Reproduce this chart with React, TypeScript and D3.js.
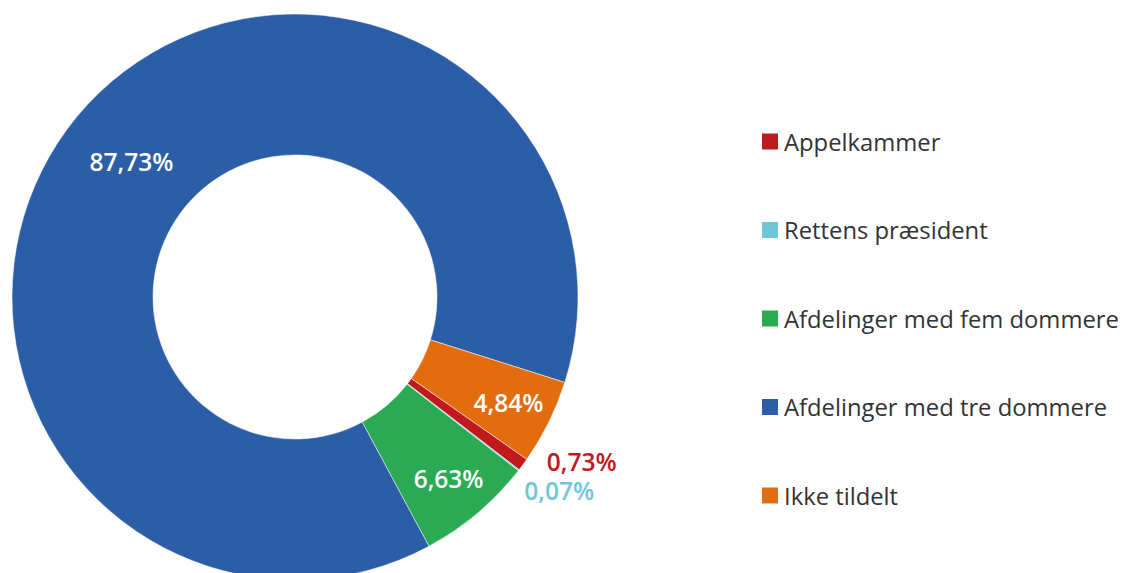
import React from "react";
import * as d3 from "d3";

const categories = [
  "Appelkammer",
  "Rettens præsident",
  "Afdelinger med fem dommere",
  "Afdelinger med tre dommere",
  "Ikke tildelt",
];
const values = [0.73, 0.07, 6.63, 87.73, 4.84];
const valueLabels = ["0,73%", "0,07%", "6,63%", "87,73%", "4,84%"];
const colors = ["#c0191e", "#6fc6da", "#2aaa52", "#2c5ea8", "#e36c0e"];

const W = 1123;
const H = 573;
const cx = 295;
const cy = 297;
const outerR = 283;
const innerR = 142;
const startDeg = 125;

export default function App() {
  const pie = d3
    .pie<number>()
    .sort(null)
    .value((d) => d)
    .startAngle((startDeg * Math.PI) / 180)
    .endAngle(((startDeg + 360) * Math.PI) / 180);
  const arcs = pie(values);
  const arc = d3.arc<d3.PieArcDatum<number>>().innerRadius(innerR).outerRadius(outerR);
  const total = d3.sum(values);

  const legendY = d3.scalePoint<string>().domain(categories).range([141.5, 495.5]);

  return (
    <svg
      width={W}
      height={H}
      style={{ position: "absolute", left: 0, top: 0, display: "block" }}
      fontFamily="'Open Sans', sans-serif"
    >
      <rect width={W} height={H} fill="#ffffff" />
      <g transform={`translate(${cx},${cy})`}>
        {arcs.map((a, i) => (
          <path key={i} d={arc(a) || ""} fill={colors[i]} stroke="#ffffff" strokeWidth={0.5} />
        ))}
        {arcs.map((a, i) => {
          const share = a.value / total;
          const mid = (a.startAngle + a.endAngle) / 2;
          if (share > 0.03) {
            const r = share > 0.5 ? (innerR + outerR) / 2 : 238;
            const x = r * Math.sin(mid);
            const y = -r * Math.cos(mid);
            return (
              <text
                key={"l" + i}
                x={x}
                y={y}
                textAnchor="middle"
                dominantBaseline="central"
                fill="#ffffff"
                fontSize={24.5}
                fontWeight={600}
              >
                {valueLabels[i]}
              </text>
            );
          }
          const r = 295;
          const bx = r * Math.sin(mid);
          const by = -r * Math.cos(mid);
          const off = i === 0 ? [14, -10] : [-4, 13];
          return (
            <text
              key={"l" + i}
              x={bx + off[0]}
              y={by + off[1]}
              textAnchor="start"
              dominantBaseline="central"
              fill={colors[i]}
              fontSize={24.5}
              fontWeight={600}
            >
              {valueLabels[i]}
            </text>
          );
        })}
      </g>
      <g>
        {categories.map((c, i) => (
          <g key={c} transform={`translate(0,${legendY(c)})`}>
            <rect x={762} y={-8} width={16} height={16} fill={colors[i]} />
            <text x={784} y={0} dominantBaseline="central" fontSize={23.8} fill="#333333">
              {c}
            </text>
          </g>
        ))}
      </g>
    </svg>
  );
}
